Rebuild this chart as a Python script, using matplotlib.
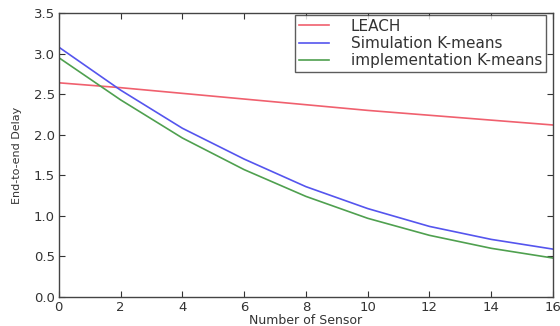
import numpy as np
import matplotlib
matplotlib.use('Agg')
import matplotlib.pyplot as plt

sensors = [0, 2, 4, 6, 8, 10, 12, 14, 16]
leach = [2.64, 2.58, 2.51, 2.44, 2.37, 2.30, 2.24, 2.18, 2.12]
sim_kmeans = [3.08, 2.55, 2.08, 1.70, 1.36, 1.09, 0.87, 0.71, 0.59]
impl_kmeans = [2.95, 2.43, 1.96, 1.57, 1.24, 0.97, 0.76, 0.60, 0.48]
xticks = [0, 2, 4, 6, 8, 10, 12, 14, 16]
yticks = [0.0, 0.5, 1.0, 1.5, 2.0, 2.5, 3.0, 3.5]

fig = plt.figure(figsize=(5.6, 3.26), dpi=100)
ax = fig.add_axes([0.105, 0.089, 0.8825, 0.871])

ax.plot(sensors, leach, color='#f0606e', lw=1.2, label='LEACH')
ax.plot(sensors, sim_kmeans, color='#5555ee', lw=1.2, label='Simulation K-means')
ax.plot(sensors, impl_kmeans, color='#4fa04f', lw=1.2, label='implementation K-means')

ax.set(xlim=(0, 16), ylim=(0, 3.5))
ax.set_xticks(xticks)
ax.set_yticks(yticks)
ax.set_yticklabels(['{:.1f}'.format(v) for v in yticks])
ax.tick_params(direction='in', top=True, right=True, length=4,
               labelsize=9.5, colors='#333333', pad=3)
for sp in ax.spines.values():
    sp.set_color('#444444')
    sp.set_linewidth(1.0)

ax.set_xlabel('Number of Sensor', fontsize=9, color='#333333', labelpad=0)
ax.set_ylabel('End-to-end Delay', fontsize=8, color='#333333',
              family='Liberation Sans Narrow', labelpad=8)

leg = ax.legend(loc='upper right', bbox_to_anchor=(0.986, 0.993),
                fontsize=11, fancybox=False, handlelength=2.0,
                handletextpad=1.4, borderpad=0.25, labelspacing=0.15,
                borderaxespad=0)
leg.get_frame().set_edgecolor('#333333')
leg.get_frame().set_linewidth(1.0)
for t in leg.get_texts():
    t.set_color('#333333')

fig.savefig('out.png')
